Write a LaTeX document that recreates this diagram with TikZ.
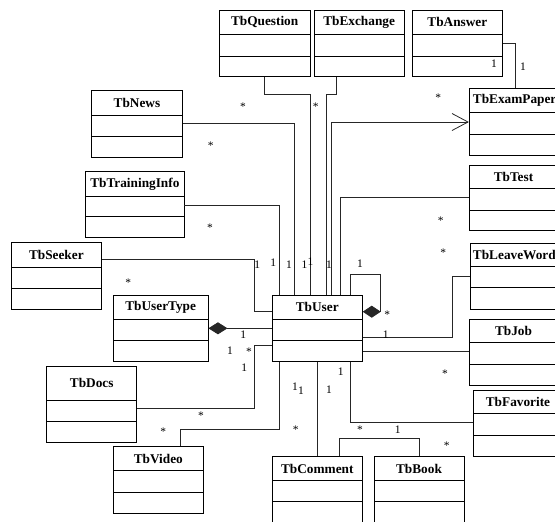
\documentclass[tikz,border=0pt]{standalone}
\usepackage{fontspec}
\setmainfont{Liberation Serif}
\usetikzlibrary{arrows.meta,fit}
\tikzset{
  cls/.style={draw, line width=0.9pt, inner sep=0pt},
  divider/.style={line width=0.9pt},
  ttl/.style={font=\fontsize{13.3}{15}\selectfont\bfseries, inner sep=0pt},
  mult/.style={font=\fontsize{11.5}{13}\selectfont, inner sep=0pt},
  star/.style={mult, yshift=-2pt},
  conn/.style={line width=0.8pt, black!85},
  compo/.style={conn, {Diamond[length=19pt,width=12pt]}-},
  nav/.style={conn, -{Straight Barb[length=16pt,width=17pt]}}
}
\newcommand\umlcls[8]{%
  \node[cls, fit={(#3,#4) (#5,#6)}] (#1) {};
  \draw[divider] (#3,#7) -- (#5,#7) (#3,#8) -- (#5,#8);
  \node[ttl] at ({(#3+#5)/2},{(#4+#7)/2}) {#2};
}
\begin{document}
\begin{tikzpicture}[x=1pt,y=-1pt]
\useasboundingbox (0,0) rectangle (555,522);
\clip (0,0) rectangle (555,522);
% classes
\umlcls{question}{TbQuestion}{219.3}{10}{310}{76.7}{34}{56}
\umlcls{exchange}{TbExchange}{314.3}{10}{404}{76.7}{34}{56}
\umlcls{answer}{TbAnswer}{412}{10}{502.7}{76.7}{34}{56}
\umlcls{exampaper}{TbExamPaper}{469.3}{88.7}{560}{155.3}{112.7}{134.7}
\umlcls{news}{TbNews}{91.7}{90.7}{182.3}{157.3}{115}{136}
\umlcls{training}{TbTrainingInfo}{85.7}{171.7}{184}{237.7}{196}{216.7}
\umlcls{test}{TbTest}{469}{165}{558}{230.7}{188.3}{210}
\umlcls{seeker}{TbSeeker}{11}{242.7}{101.7}{309.3}{267.3}{288.3}
\umlcls{leaveword}{TbLeaveWord}{470.7}{243.3}{558}{309}{266.7}{287.7}
\umlcls{usertype}{TbUserType}{113.3}{295.7}{208}{361.7}{319.3}{340}
\umlcls{user}{TbUser}{272.3}{295}{362.3}{361.7}{319.3}{340.7}
\umlcls{job}{TbJob}{469}{319}{558}{385}{342.7}{364.3}
\umlcls{docs}{TbDocs}{46.7}{366}{136.7}{442.3}{400}{421.7}
\umlcls{favorite}{TbFavorite}{473.3}{390.7}{562.7}{456}{413.3}{435.7}
\umlcls{video}{TbVideo}{113.3}{446.7}{203.3}{513.3}{470.7}{492.3}
\umlcls{comment}{TbComment}{272.3}{456.7}{362.3}{530}{480.7}{501.7}
\umlcls{book}{TbBook}{374}{456.7}{464}{530}{480.7}{501.7}
% connectors
\draw[conn] (question.south -| 264.3,0) |- (310,94.3) -- (user.north -| 310,0);
\draw[conn] (exchange.south -| 336.7,0) |- (326.7,94.3) -- (user.north -| 326.7,0);
\draw[conn] (answer.east |- 0,43.3) -| (exampaper.north -| 515,0);
\draw[nav] (user.north -| 331.7,0) |- (exampaper.west |- 0,122);
\draw[conn] (news.east |- 0,123.7) -| (user.north -| 294.3,0);
\draw[conn] (training.east |- 0,205) -| (user.north -| 279.3,0);
\draw[conn] (seeker.east |- 0,259.3) -| (254,311.7) -- (user.west |- 0,311.7);
\draw[conn] (test.west |- 0,197.7) -| (user.north -| 340,0);
\draw[conn, -{Diamond[length=18pt,width=12pt]}] (user.north -| 350,0) |- (380.3,274.3) |- (user.east |- 0,311.7);
\draw[compo] (usertype.east |- 0,328.3) -- (user.west |- 0,328.3);
\draw[conn] (docs.east |- 0,408.3) -| (254,345) -- (user.west |- 0,345);
\draw[conn] (video.north -| 180.7,0) |- (279.3,429.3) -- (user.south -| 279.3,0);
\draw[conn] (user.south -| 317.3,0) -- (comment.north -| 317.3,0);
\draw[conn] (user.south -| 350.3,0) |- (favorite.west |- 0,422.7);
\draw[conn] (comment.north -| 339.3,0) |- (419,438.7) -- (book.north -| 419,0);
\draw[conn] (leaveword.west |- 0,276) -| (452.7,337.7) -- (user.east |- 0,337.7);
\draw[conn] (user.east |- 0,351.7) -- (job.west |- 0,351.7);
% multiplicities
\node[mult] (m1) at (494,64) {1};
\node[mult] (m2) at (523,67) {1};
\node[star] (m3) at (243,105) {*};
\node[star] (m4) at (315.7,105) {*};
\node[star] (m5) at (438.3,95.7) {*};
\node[star] (m6) at (210.7,144) {*};
\node[star] (m7) at (210,225.7) {*};
\node[mult] (m8) at (257.3,265) {1};
\node[mult] (m9) at (273.3,263) {1};
\node[mult] (m10) at (289,265) {1};
\node[mult] (m11) at (304.5,265) {1};
\node[mult] (m12) at (310.5,261.7) {1};
\node[mult] (m13) at (329,265) {1};
\node[mult] (m14) at (360,264) {1};
\node[star] (m15) at (128.3,280.7) {*};
\node[star] (m16) at (440.7,218.3) {*};
\node[star] (m17) at (443.3,250.7) {*};
\node[star] (m18) at (387.3,312.3) {*};
\node[mult] (m19) at (243.3,335) {1};
\node[mult] (m20) at (230,351) {1};
\node[star] (m21) at (249,349.3) {*};
\node[mult] (m22) at (244.3,367.7) {1};
\node[mult] (m23) at (385.7,334.3) {1};
\node[star] (m24) at (445,371.7) {*};
\node[mult] (m25) at (340.7,371.7) {1};
\node[mult] (m26) at (295,386.7) {1};
\node[mult] (m27) at (301,390.7) {1};
\node[mult] (m28) at (329,389.3) {1};
\node[star] (m29) at (201,414) {*};
\node[star] (m30) at (163.3,429.3) {*};
\node[star] (m31) at (295.7,427.7) {*};
\node[star] (m32) at (360,427.7) {*};
\node[mult] (m33) at (397.7,430) {1};
\node[star] (m34) at (446.7,443.3) {*};
\end{tikzpicture}
\end{document}
